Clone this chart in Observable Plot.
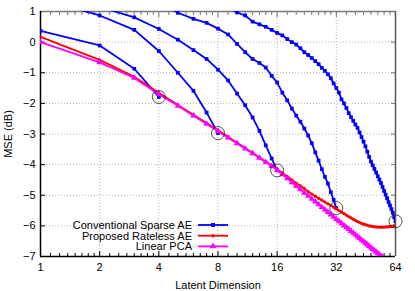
<!DOCTYPE html>
<html><head><meta charset="utf-8">
<script src="https://cdn.jsdelivr.net/npm/d3@7"></script>
<script src="https://cdn.jsdelivr.net/npm/@observablehq/plot@0.6"></script>
<style>body{margin:0;background:#fff}</style>
</head><body><div id="chart"></div>
<script>
const xTicks = [1, 2, 4, 8, 16, 32, 64];
const yTicks = [-7, -6, -5, -4, -3, -2, -1, 0, 1];
const seriesNames = ["Conventional Sparse AE", "Proposed Rateless AE", "Linear PCA"];

// Conventional Sparse AE, one curve per latent size (dims 1..N)
const sparse4 = [0.37, -0.11, -0.87, -1.79];
const sparse8 = [1.42, 0.87, 0.40, -0.29, -1.0, -1.59, -2.30, -2.97];
const sparse16 = [1.6, 1.15, 0.81, 0.43, 0.08, -0.26, -0.55, -0.9, -1.25, -1.68, -2.06, -2.46, -2.9, -3.37, -3.8, -4.19];
const sparse32 = [2.6, 2.1, 1.7, 1.3, 0.96, 0.76, 0.63, 0.44, 0.25, -0.06, -0.33, -0.55, -0.68, -0.83, -1.1, -1.32,
  -1.65, -1.9, -2.17, -2.4, -2.6, -2.82, -3.05, -3.3, -3.6, -3.87, -4.15, -4.4, -4.62, -4.9, -5.15, -5.42];
const sparse64 = [3.6, 3.0, 2.6, 2.3, 2.0, 1.75, 1.5, 1.3, 1.12, 0.97, 0.87, 0.67, 0.58, 0.5, 0.4, 0.3,
  0.22, 0.1, 0.0, -0.08, -0.2, -0.33, -0.42, -0.52, -0.62, -0.72, -0.84, -0.94, -1.05, -1.18, -1.35, -1.5,
  -1.65, -1.87, -2.0, -2.15, -2.32, -2.45, -2.57, -2.69, -2.8, -2.95, -3.1, -3.25, -3.4, -3.58, -3.75, -3.9,
  -4.02, -4.14, -4.26, -4.38, -4.49, -4.6, -4.73, -4.86, -4.98, -5.1, -5.22, -5.33, -5.45, -5.57, -5.72, -5.85];
// Proposed Rateless AE (dims 1..64)
const rateless = [0.17, -0.58, -1.13, -1.65, -2.05, -2.37, -2.64, -2.88,
  -3.09, -3.29, -3.46, -3.62, -3.77, -3.90, -4.03, -4.15,
  -4.27, -4.38, -4.5, -4.6, -4.69, -4.78, -4.88, -4.96,
  -5.03, -5.1, -5.16, -5.22, -5.28, -5.33, -5.39, -5.45,
  -5.5, -5.55, -5.6, -5.65, -5.7, -5.74, -5.78, -5.82,
  -5.86, -5.89, -5.92, -5.94, -5.96, -5.98, -6.0, -6.01,
  -6.02, -6.03, -6.03, -6.04, -6.04, -6.04, -6.04, -6.04,
  -6.03, -6.03, -6.03, -6.02, -6.02, -6.01, -6.0, -5.99];
// Linear PCA (dims 1..64)
const pca = [0, -0.66, -1.17, -1.7, -2.08, -2.4, -2.67, -2.91,
  -3.12, -3.31, -3.48, -3.63, -3.78, -3.92, -4.05, -4.18,
  -4.32, -4.45, -4.58, -4.7, -4.81, -4.92, -5.02, -5.12,
  -5.21, -5.3, -5.39, -5.47, -5.55, -5.63, -5.71, -5.78,
  -5.85, -5.92, -5.99, -6.05, -6.11, -6.17, -6.23, -6.29,
  -6.35, -6.4, -6.46, -6.51, -6.56, -6.61, -6.66, -6.71,
  -6.76, -6.8, -6.85, -6.89, -6.94, -6.98, -7.02, -7.06,
  -7.1, -7.14, -7.18, -7.22, -7.26, -7.3, -7.33, -7.37];

const blue = "#0000ff", red = "#ff0000", magenta = "#ff00ff";

const sparseCurves = [sparse4, sparse8, sparse16, sparse32, sparse64];
const sparseRows = sparseCurves.flatMap((vals, c) => vals.map((v, i) => ({curve: c, dim: i + 1, mse: v})));
const ratelessRows = rateless.map((v, i) => ({dim: i + 1, mse: v}));
const pcaRows = pca.map((v, i) => ({dim: i + 1, mse: v}));
const endRows = sparseCurves.map(vals => ({dim: vals.length, mse: vals[vals.length - 1]}));
const minorX = xTicks.slice(0, -1).flatMap(t => d3.range(1, 8).map(j => t * (1 + j / 8)));
const gridX = xTicks.slice(1, -1);
const gridY = yTicks.slice(1, -1);
const xMin = xTicks[0], xMax = xTicks[xTicks.length - 1];
const yMin = yTicks[0], yMax = yTicks[yTicks.length - 1];

const plot = Plot.plot({
  width: 415, height: 291,
  marginLeft: 40, marginRight: 20, marginTop: 11, marginBottom: 35,
  style: {fontFamily: "'Liberation Sans', Arial, sans-serif", fontSize: "11px", background: "#fff", color: "#000"},
  x: {type: "log", base: 2, domain: [xMin, xMax]},
  y: {domain: [yMin, yMax]},
  marks: [
    Plot.gridX(gridX, {stroke: "#b4b4b4", strokeOpacity: 1, strokeDasharray: "1,2"}),
    Plot.gridY(gridY, {stroke: "#b4b4b4", strokeOpacity: 1, strokeDasharray: "1,2"}),
    Plot.axisX(xTicks, {tickSize: 0, tickPadding: 7, tickFormat: d => d, label: "Latent Dimension",
      labelAnchor: "center", labelArrow: "none", labelOffset: 32}),
    Plot.axisY(yTicks, {tickSize: 0, tickPadding: 5, label: "MSE (dB)",
      labelAnchor: "center", labelArrow: "none", labelOffset: 36}),
    Plot.axisX(minorX, {anchor: "bottom", tickSize: -3, tickFormat: () => "", label: null}),
    Plot.axisX(minorX, {anchor: "top", tickSize: -3, tickFormat: () => "", label: null, stroke: "#777"}),
    Plot.axisX(gridX, {anchor: "bottom", tickSize: -5, tickFormat: () => "", label: null}),
    Plot.axisX(gridX, {anchor: "top", tickSize: -5, tickFormat: () => "", label: null, stroke: "#777"}),
    Plot.axisY(gridY, {anchor: "left", tickSize: -5, tickFormat: () => "", label: null}),
    Plot.axisY(gridY, {anchor: "right", tickSize: -5, tickFormat: () => "", label: null, stroke: "#777"}),
    Plot.ruleY([yMax], {stroke: "#7a7a7a", strokeWidth: 1.5}),
    Plot.ruleX([xMax], {stroke: "#555", strokeWidth: 1.5}),
    Plot.ruleX([xMin], {stroke: "#000", strokeWidth: 1.5}),
    Plot.ruleY([yMin], {stroke: "#000", strokeWidth: 1.5}),
    Plot.line(sparseRows, {x: "dim", y: "mse", z: "curve", stroke: blue, strokeWidth: 1.8, clip: true}),
    Plot.dot(sparseRows, {x: "dim", y: "mse", symbol: "square", r: 2.1, fill: blue, clip: true}),
    Plot.line(ratelessRows, {x: "dim", y: "mse", stroke: red, strokeWidth: 1.8, clip: true}),
    Plot.dot(ratelessRows, {x: "dim", y: "mse", r: 1.6, fill: red, clip: true}),
    Plot.line(pcaRows, {x: "dim", y: "mse", stroke: magenta, strokeWidth: 1.8, clip: true}),
    Plot.dot(pcaRows, {x: "dim", y: "mse", symbol: "triangle", r: 2.4, fill: magenta, clip: true}),
    Plot.dot(endRows, {x: "dim", y: "mse", r: 6.5, stroke: "#222", strokeWidth: 0.8, fill: "none"})
  ]
});

// legend (inside plot, lower left-centre)
const legendItems = [
  {name: seriesNames[0], color: blue, symbol: d3.symbolSquare, size: 16},
  {name: seriesNames[1], color: red, symbol: d3.symbolCircle, size: 9},
  {name: seriesNames[2], color: magenta, symbol: d3.symbolTriangle, size: 20}
];
const lg = d3.select(plot).append("g")
  .attr("font-family", "'Liberation Sans', Arial, sans-serif").attr("font-size", 11);
legendItems.forEach((it, i) => {
  const y = 225 + i * 10.7;
  lg.append("text").attr("x", 192).attr("y", y).attr("dy", "0.35em")
    .attr("text-anchor", "end").attr("fill", "#000").text(it.name);
  lg.append("line").attr("x1", 198).attr("x2", 228).attr("y1", y).attr("y2", y)
    .attr("stroke", it.color).attr("stroke-width", 1.8);
  lg.append("path").attr("transform", `translate(213,${y})`)
    .attr("d", d3.symbol(it.symbol, it.size)()).attr("fill", it.color);
});

document.getElementById("chart").appendChild(plot);
</script>
</body></html>
